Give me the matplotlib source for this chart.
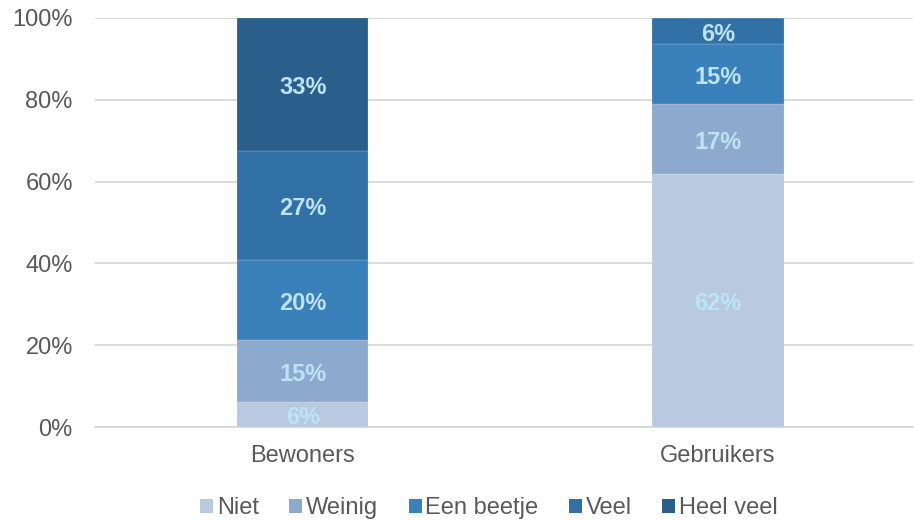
import matplotlib.pyplot as plt
import matplotlib.ticker as ticker
from matplotlib.patches import Patch

plt.rcParams["font.family"] = ["Liberation Sans", "DejaVu Sans"]

groups = ["Bewoners", "Gebruikers"]
levels = ["Niet", "Weinig", "Een beetje", "Veel", "Heel veel"]
values = {
    "Niet": [6.1, 61.9],
    "Weinig": [15.2, 17.1],
    "Een beetje": [19.5, 14.7],
    "Veel": [26.7, 6.3],
    "Heel veel": [32.5, 0.0],
}
labels = {
    "Niet": ["6%", "62%"],
    "Weinig": ["15%", "17%"],
    "Een beetje": ["20%", "15%"],
    "Veel": ["27%", "6%"],
    "Heel veel": ["33%", ""],
}
colors = ["#B9C9DF", "#8DA9CD", "#3A80BA", "#3271A5", "#2A5F8C"]

fig = plt.figure(figsize=(9.14, 5.2), dpi=100)
ax = fig.add_axes([95 / 914, 93 / 520, 818 / 914, 409 / 520])

x = list(range(len(groups)))
bottom = [0.0] * len(groups)
for lvl, col in zip(levels, colors):
    vals = values[lvl]
    ax.bar(x, vals, width=0.316, bottom=bottom, color=col, zorder=3,
           edgecolor=(1, 1, 1, 0.4), linewidth=0.3)
    for i, (v, txt) in enumerate(zip(vals, labels[lvl])):
        if txt:
            ax.annotate(txt, xy=(x[i], bottom[i] + v / 2), xytext=(0, -2.5),
                        textcoords="offset points", ha="center", va="center",
                        fontsize=17, fontweight="bold", color="#BDE3F7", zorder=4)
    bottom = [b + v for b, v in zip(bottom, vals)]

ax.set_xlim(-0.501, 1.47)
ax.set_ylim(0, 100)
ax.set_yticks(range(0, 101, 20))
ax.yaxis.set_major_formatter(ticker.FuncFormatter(lambda y, _: f"{y:.0f}%"))
ax.set_xticks(x)
ax.set_xticklabels(groups)
ax.tick_params(axis="both", length=0, labelsize=17, labelcolor="#595959")
ax.tick_params(axis="y", pad=16)
ax.tick_params(axis="x", pad=13)
ax.grid(axis="y", color="#D9D9D9", linewidth=1.3, zorder=0)
for s in ["top", "right", "left"]:
    ax.spines[s].set_visible(False)
ax.spines["bottom"].set_color("#D9D9D9")
ax.spines["bottom"].set_linewidth(1.3)

handles = [Patch(facecolor=c, label=l) for l, c in zip(levels, colors)]
fig.legend(handles=handles, loc="center", bbox_to_anchor=(489 / 914, 12 / 520),
           ncol=5, frameon=False, fontsize=17, labelcolor="#595959",
           handlelength=0.55, handleheight=0.55, handletextpad=0.15,
           columnspacing=1.3)

fig.savefig("out.png", dpi=100)
